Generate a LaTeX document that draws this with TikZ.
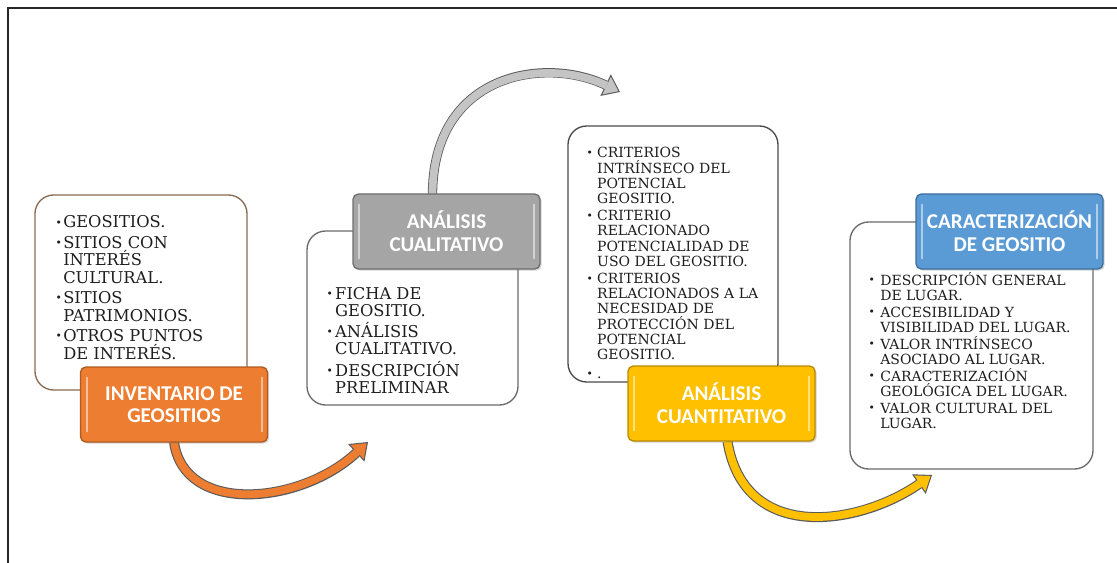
\documentclass[tikz,border=0pt]{standalone}
\usepackage{fontspec}
\setmainfont{DejaVu Serif}
\newfontfamily\hdfont{Carlito}
\usetikzlibrary{arrows.meta,shadows,calc}
\definecolor{cOrange}{HTML}{ED7D31}
\definecolor{cOrangeD}{HTML}{B05A20}
\definecolor{cGray}{HTML}{A5A5A5}
\definecolor{cGrayD}{HTML}{6F6F6F}
\definecolor{cYellow}{HTML}{FFC000}
\definecolor{cYellowD}{HTML}{B88A00}
\definecolor{cBlue}{HTML}{5B9BD5}
\definecolor{cBlueD}{HTML}{3F6F9C}
\definecolor{cBrown}{HTML}{8A6A52}
\definecolor{cEdge}{HTML}{6A6A6A}
\definecolor{cEdgeD}{HTML}{4A4A4A}
\definecolor{cArrowEdge}{HTML}{5A5A5A}
\definecolor{cArrowGray}{HTML}{C4C4C4}
\definecolor{cText}{HTML}{1E1E1E}
\newcommand\bul{\raisebox{0.12em}{\fontsize{8}{8}\selectfont •}}
\newcommand\blist[2]{%
  \setbox\strutbox\hbox{\vrule height 0.9\baselineskip depth 0.1\baselineskip width 0pt}%
  \begin{tabular}[t]{@{}l@{\hspace{#1}}l@{}}#2\end{tabular}}
\begin{document}
\begin{tikzpicture}[x=0.75pt,y=0.75pt,
  wbox/.style={draw=cEdge, line width=1pt, fill=white, rounded corners=14pt, outer sep=0pt, inner sep=0pt},
  lst/.style={inner sep=0pt, anchor=base west, align=left, text=cText},
  hd/.style={rounded corners=4pt, minimum width=140.25pt, minimum height=56.25pt, line width=1pt,
    text=white, align=center, inner sep=2pt,
    font=\hdfont\bfseries\fontsize{15.8}{17}\selectfont,
    drop shadow={shadow xshift=1.2pt, shadow yshift=-1.2pt, opacity=0.35},
    path picture={
      \draw[white, opacity=0.5, line width=1.5pt, line cap=round]
        ([shift={(4.5pt,8pt)}]path picture bounding box.south west) -- ([shift={(4.5pt,-8pt)}]path picture bounding box.north west)
        ([shift={(-4.5pt,8pt)}]path picture bounding box.south east) -- ([shift={(-4.5pt,-8pt)}]path picture bounding box.north east);}},
  arrout/.style={draw=cArrowEdge, line width=#1, -{Triangle[length=12pt,width=18pt,line width=0pt]}},
  arrin/.style={draw=#1, line width=5.8pt, shorten >=1.4pt, -{Triangle[length=9.7pt,width=14.6pt,line width=0pt]}}
]
\useasboundingbox (0,0) rectangle (1117,-563);
% frame
\draw[line width=1.5pt, black!85] (8,-563) -- (8,-8) -- (1117,-8);

% white panels
\node[wbox, draw=cBrown, minimum width=159pt, minimum height=146.25pt] (b1) at (141,-292.5) {};
\node[wbox, minimum width=158.25pt, minimum height=130.5pt] (b2) at (412.5,-318) {};
\node[wbox, draw=cEdgeD, minimum width=157.5pt, minimum height=192pt] (b3) at (673,-254) {};
\node[wbox, minimum width=182.25pt, minimum height=185.25pt] (b4) at (971.5,-345.5) {};

% lists
\node[lst, font=\fontsize{12.2}{13.1}\selectfont] (t1) at (55.4,-228) {\blist{1pt}{%
\bul & GEOSITIOS.\\[2.2pt]
\bul & SITIOS CON\\
 & INTERÉS\\
 & CULTURAL.\\[2.2pt]
\bul & SITIOS\\
 & PATRIMONIOS.\\[2.2pt]
\bul & OTROS PUNTOS\\
 & DE INTERÉS.}};
\node[lst, font=\fontsize{12.2}{12.75}\selectfont] (t2) at (326.4,-299) {\blist{1.7pt}{%
\bul & FICHA DE\\
 & GEOSITIO.\\[3.7pt]
\bul & ANÁLISIS\\
 & CUALITATIVO.\\[3.7pt]
\bul & DESCRIPCIÓN\\
 & PRELIMINAR}};
\node[lst, font=\fontsize{10.5}{11.3}\selectfont] (t3) at (586.4,-158) {\blist{3.2pt}{%
\bul & CRITERIOS\\
 & INTRÍNSECO DEL\\
 & POTENCIAL\\
 & GEOSITIO.\\[2pt]
\bul & CRITERIO\\
 & RELACIONADO\\
 & POTENCIALIDAD DE\\
 & USO DEL GEOSITIO.\\[2pt]
\bul & CRITERIOS\\
 & RELACIONADOS A LA\\
 & NECESIDAD DE\\
 & PROTECCIÓN DEL\\
 & POTENCIAL\\
 & GEOSITIO.\\[3.5pt]
\bul & .}};
\node[lst, font=\fontsize{10.5}{11.25}\selectfont] (t4) at (868.4,-285) {\blist{4pt}{%
\bul & DESCRIPCIÓN GENERAL\\
 & DE LUGAR.\\[1.5pt]
\bul & ACCESIBILIDAD Y\\
 & VISIBILIDAD DEL LUGAR.\\[1.5pt]
\bul & VALOR INTRÍNSECO\\
 & ASOCIADO AL LUGAR.\\[1.5pt]
\bul & CARACTERIZACIÓN\\
 & GEOLÓGICA DEL LUGAR.\\[1.5pt]
\bul & VALOR CULTURAL DEL\\
 & LUGAR.}};

% arrow end points
\coordinate (invS) at (174,-442);
\coordinate (graN) at (432.5,-195);
\coordinate (yelS) at (727.5,-441.5);
\coordinate (tipA) at (368,-442);
\coordinate (tipG) at (620,-92);
\coordinate (tipY) at (932,-475);

% arrows
\draw[arrout=7.5pt] (invS) .. controls +(10,-73) and +(-68,-63) .. (tipA);
\draw[arrin=cOrange] (invS) .. controls +(10,-73) and +(-68,-63) .. (tipA);
\draw[arrout=7pt] (graN) .. controls +(0,122) and +(-75,36) .. (tipG);
\draw[arrin=cArrowGray] (graN) .. controls +(0,122) and +(-75,36) .. (tipG);
\draw[arrout=7.5pt] (yelS) .. controls +(17,-103) and +(-72,-50) .. (tipY);
\draw[arrin=cYellow] (yelS) .. controls +(17,-103) and +(-72,-50) .. (tipY);

% heading nodes
\node[hd, fill=cOrange, draw=cOrangeD] (inv) at (174,-404.5) {INVENTARIO DE\\GEOSITIOS};
\node[hd, fill=cGray, draw=cGrayD] (gra) at (446.5,-231.5) {ANÁLISIS\\CUALITATIVO};
\node[hd, fill=cYellow, draw=cYellowD] (yel) at (721.5,-403.5) {ANÁLISIS\\CUANTITATIVO};
\node[hd, fill=cBlue, draw=cBlueD] (car) at (1009.5,-231.5) {CARACTERIZACIÓN\\DE GEOSITIO};
\end{tikzpicture}
\end{document}
